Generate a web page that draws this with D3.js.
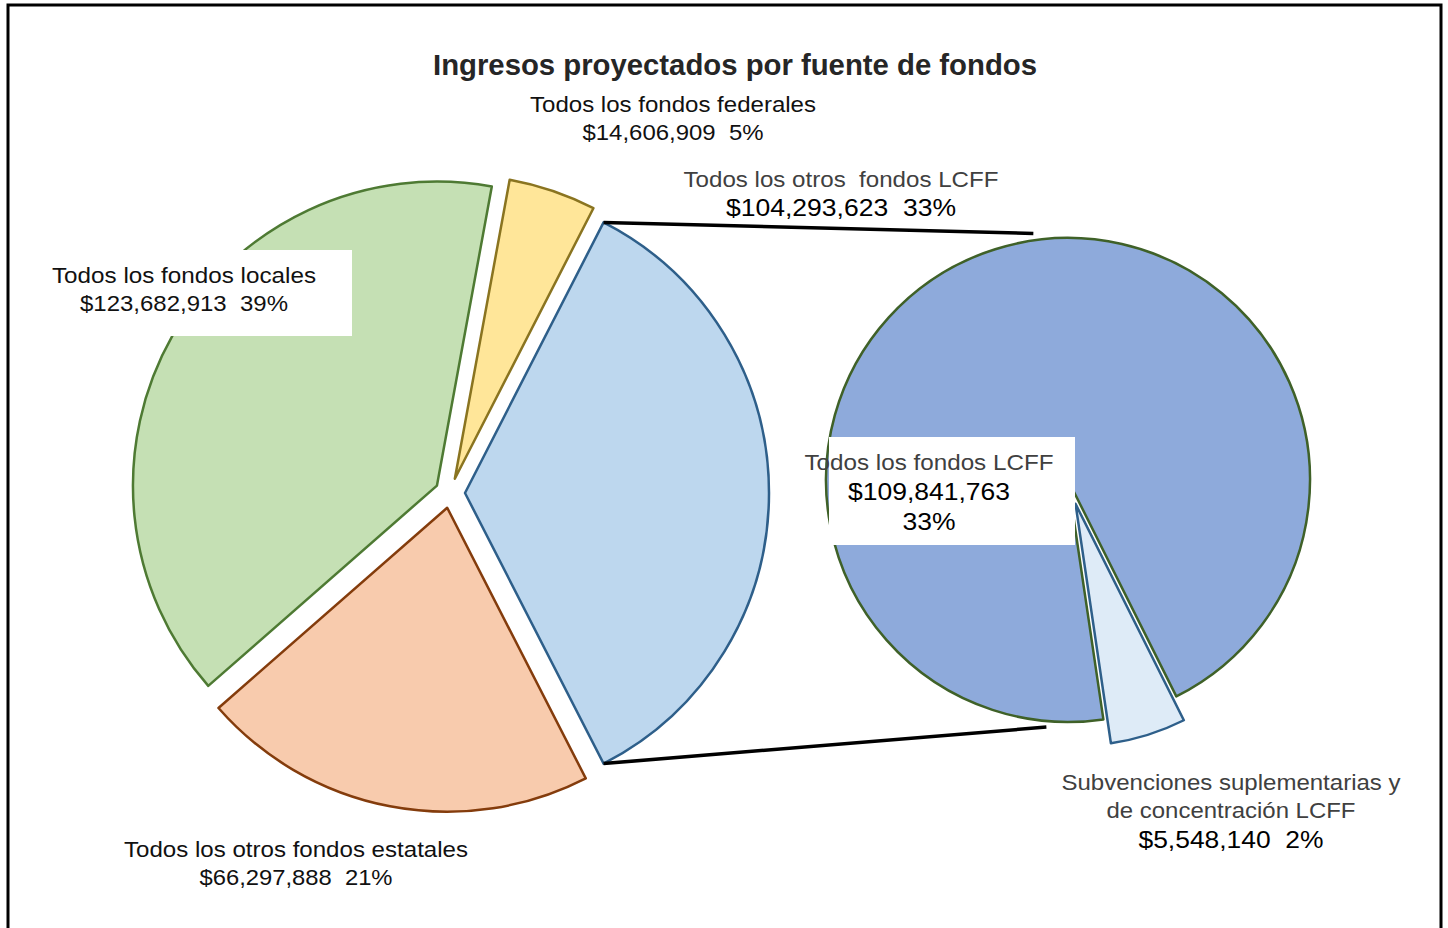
<!DOCTYPE html>
<html lang="es">
<head>
<meta charset="UTF-8">
<title>Ingresos proyectados por fuente de fondos</title>
<script src="https://cdn.jsdelivr.net/npm/d3@7"></script>
<style>
  body { margin: 0; background: #fff; }
  svg text { font-family: "Liberation Sans", Arial, sans-serif; white-space: pre; }
</style>
</head>
<body>
<div id="output"></div>
<script>

// main pie: funding sources (first slice is the one broken out on the right)
var sources = ["Todos los fondos LCFF", "Todos los otros fondos estatales", "Todos los fondos locales", "Todos los fondos federales"];
var amounts = [109841763, 66297888, 123682913, 14606909];
var percents = ["33%", "21%", "39%", "5%"];

// second pie: breakdown of LCFF
var lcffParts = ["Subvenciones suplementarias y de concentración LCFF", "Todos los otros  fondos LCFF"];
var lcffAmounts = [5548140, 104293623];
var lcffPercents = ["2%", "33%"];

var w = 1448, h = 928;
var money = d3.format("$,");

var fills = ["#bdd7ee", "#f8cbad", "#c5e0b4", "#ffe699"];
var strokes = ["#2e5f8a", "#843c0c", "#4e7a33", "#8a7420"];
var lcffFills = ["#deebf7", "#8eaadb"];
var lcffStrokes = ["#2e5f8a", "#3f6128"];

var svg = d3.select("#output").append("svg")
    .attr("width", w)
    .attr("height", h);

// ---- left pie ----
var cx1 = 450, cy1 = 493, r1 = 304, explode1 = 15;
var total = d3.sum(amounts);
var half = Math.PI * amounts[0] / total;
var pie1 = d3.pie().sort(null)
    .startAngle(Math.PI / 2 - half)
    .endAngle(Math.PI / 2 - half + 2 * Math.PI);
var arc1 = d3.arc().innerRadius(0).outerRadius(r1);
var slices1 = pie1(amounts);

function offset(d, dist) {
    var a = (d.startAngle + d.endAngle) / 2;
    return [Math.sin(a) * dist, -Math.cos(a) * dist];
}

svg.append("g").attr("transform", "translate(" + cx1 + "," + cy1 + ")")
  .selectAll("path").data(slices1).enter().append("path")
    .attr("d", arc1)
    .attr("transform", function(d){ var o = offset(d, explode1); return "translate(" + o[0] + "," + o[1] + ")"; })
    .attr("fill", function(d, i){ return fills[i]; })
    .attr("stroke", function(d, i){ return strokes[i]; })
    .attr("stroke-width", 2.5)
    .attr("stroke-linejoin", "round");

// ---- right pie ----
var cx2 = 1068, cy2 = 480, r2 = 242, explode2 = 25;
var lcffTotal = d3.sum(lcffAmounts);
var smallHalf = Math.PI * lcffAmounts[0] / lcffTotal;
var mid2 = 162.5 * Math.PI / 180;
var pie2 = d3.pie().sort(null)
    .startAngle(mid2 - smallHalf)
    .endAngle(mid2 - smallHalf + 2 * Math.PI);
var arc2 = d3.arc().innerRadius(0).outerRadius(r2);
var slices2 = pie2(lcffAmounts);

svg.append("g").attr("transform", "translate(" + cx2 + "," + cy2 + ")")
  .selectAll("path").data(slices2).enter().append("path")
    .attr("d", arc2)
    .attr("transform", function(d, i){ var o = offset(d, i === 0 ? explode2 : 0); return "translate(" + o[0] + "," + o[1] + ")"; })
    .attr("fill", function(d, i){ return lcffFills[i]; })
    .attr("stroke", function(d, i){ return lcffStrokes[i]; })
    .attr("stroke-width", 2.5)
    .attr("stroke-linejoin", "round");

// ---- connector lines ----
var lc = slices1[0], lo = offset(lc, explode1);
function leftPoint(a) {
    return [cx1 + lo[0] + Math.sin(a) * r1, cy1 + lo[1] - Math.cos(a) * r1];
}
function rightPoint(deg, rr) {
    var a = deg * Math.PI / 180;
    return [cx2 + Math.sin(a) * rr, cy2 - Math.cos(a) * rr];
}
var connectors = [
    [leftPoint(lc.startAngle), rightPoint(-8, 249)],
    [leftPoint(lc.endAngle), rightPoint(185, 248)]
];
svg.selectAll("line.conn").data(connectors).enter().append("line")
    .attr("class", "conn")
    .attr("x1", function(d){ return d[0][0]; })
    .attr("y1", function(d){ return d[0][1]; })
    .attr("x2", function(d){ return d[1][0]; })
    .attr("y2", function(d){ return d[1][1]; })
    .attr("stroke", "#000")
    .attr("stroke-width", 3.5);

// ---- label boxes ----
var boxes = [
    {x: 22, y: 250, w: 330, h: 86},
    {x: 829, y: 437, w: 246, h: 108}
];
svg.selectAll("rect.box").data(boxes).enter().append("rect")
    .attr("class", "box")
    .attr("x", function(d){ return d.x; })
    .attr("y", function(d){ return d.y; })
    .attr("width", function(d){ return d.w; })
    .attr("height", function(d){ return d.h; })
    .attr("fill", "#fff");

// ---- labels ----
var labelLines = [
    {t: sources[3], x: 673, y: 112, w: 286, s: 22, c: "#111"},
    {t: money(amounts[3]) + "  " + percents[3], x: 673, y: 140, w: 181, s: 22, c: "#111"},
    {t: lcffParts[1], x: 841, y: 187, w: 315, s: 22, c: "#404040"},
    {t: money(lcffAmounts[1]) + "  " + lcffPercents[1], x: 841, y: 216, w: 230, s: 24, c: "#000"},
    {t: sources[2], x: 184, y: 283, w: 264, s: 22, c: "#111"},
    {t: money(amounts[2]) + "  " + percents[2], x: 184, y: 311, w: 208, s: 22, c: "#111"},
    {t: sources[0], x: 929, y: 470, w: 249, s: 22, c: "#404040"},
    {t: money(amounts[0]), x: 929, y: 500, w: 162, s: 24, c: "#000"},
    {t: percents[0], x: 929, y: 530, w: 53, s: 24, c: "#000"},
    {t: "Subvenciones suplementarias y", x: 1231, y: 790, w: 339, s: 22, c: "#404040"},
    {t: "de concentración LCFF", x: 1231, y: 818, w: 249, s: 22, c: "#404040"},
    {t: money(lcffAmounts[0]) + "  " + lcffPercents[0], x: 1231, y: 848, w: 185, s: 24, c: "#000"},
    {t: sources[1], x: 296, y: 857, w: 344, s: 22, c: "#111"},
    {t: money(amounts[1]) + "  " + percents[1], x: 296, y: 885, w: 193, s: 22, c: "#111"}
];

svg.selectAll("text.lbl").data(labelLines).enter().append("text")
    .attr("class", "lbl")
    .attr("x", function(d){ return d.x; })
    .attr("y", function(d){ return d.y; })
    .attr("text-anchor", "middle")
    .attr("font-size", function(d){ return d.s; })
    .attr("fill", function(d){ return d.c; })
    .attr("textLength", function(d){ return d.w; })
    .attr("lengthAdjust", "spacingAndGlyphs")
    .text(function(d){ return d.t; });

// ---- title ----
svg.append("text")
    .attr("x", 735)
    .attr("y", 75)
    .attr("text-anchor", "middle")
    .attr("font-size", 29)
    .attr("font-weight", "bold")
    .attr("fill", "#262626")
    .attr("textLength", 604)
    .attr("lengthAdjust", "spacingAndGlyphs")
    .text("Ingresos proyectados por fuente de fondos");

// ---- frame ----
svg.append("path")
    .attr("d", "M8,928 L8,5 L1441,5 L1441,928")
    .attr("fill", "none")
    .attr("stroke", "#000")
    .attr("stroke-width", 3);

</script>
</body>
</html>
